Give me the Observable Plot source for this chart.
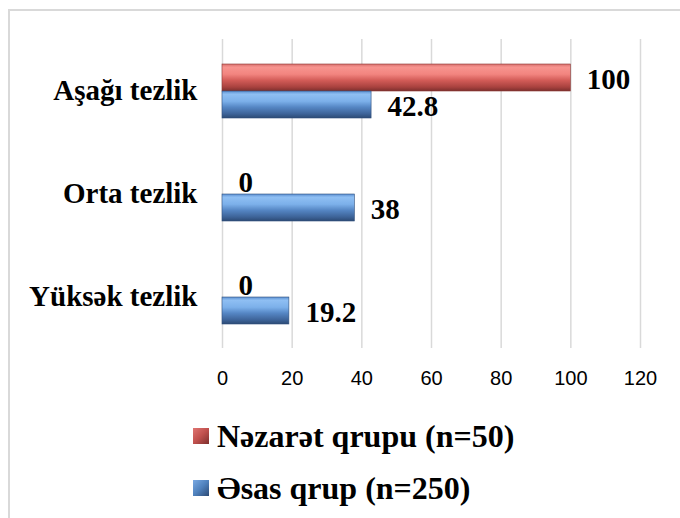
<!DOCTYPE html>
<html><head><meta charset="utf-8">
<script src="https://cdn.jsdelivr.net/npm/d3@7"></script>
<script src="https://cdn.jsdelivr.net/npm/@observablehq/plot@0.6"></script>
<style>
html,body{margin:0;padding:0;background:#fff;}
body{width:680px;height:518px;overflow:hidden;position:relative;}
#frame{position:absolute;left:8px;top:9px;width:700px;height:540px;border-left:2px solid #d9d9d9;border-top:2px solid #d9d9d9;}
#chart{position:absolute;left:0;top:0;}
.leg{position:absolute;left:193px;display:flex;align-items:center;height:32px;line-height:32px;font-family:"Liberation Serif","Times New Roman",serif;font-weight:bold;font-size:32px;color:#000;white-space:nowrap;}
.sw{width:16px;height:16px;margin-right:8px;box-sizing:border-box;}
</style></head><body>
<div id="frame"></div><div id="chart"></div><div id="legend"></div>
<script>
const categories = ["Aşağı tezlik", "Orta tezlik", "Yüksək tezlik"];
const seriesNames = ["Nəzarət qrupu (n=50)", "Əsas qrup (n=250)"];
const nezaretValues = [100, 0, 0];
const esasValues = [42.8, 38, 19.2];
const xTicks = [0, 20, 40, 60, 80, 100, 120];

const data = [];
categories.forEach((c, i) => {
  data.push({cat: c, series: seriesNames[0], value: nezaretValues[i]});
  data.push({cat: c, series: seriesNames[1], value: esasValues[i]});
});

const serif = "'Liberation Serif', 'Times New Roman', serif";

function defsMark() {
  const g = document.createElementNS("http://www.w3.org/2000/svg", "g");
  g.innerHTML = `<defs>
  <linearGradient id="gRed" x1="0" y1="0" x2="0" y2="1">
    <stop offset="0" stop-color="#d8706d"/>
    <stop offset="0.12" stop-color="#f7948f"/>
    <stop offset="0.38" stop-color="#f2847f"/>
    <stop offset="0.6" stop-color="#d35c58"/>
    <stop offset="0.85" stop-color="#a9423f"/>
    <stop offset="1" stop-color="#7c2f2d"/>
  </linearGradient>
  <linearGradient id="gBlue" x1="0" y1="0" x2="0" y2="1">
    <stop offset="0" stop-color="#5b8fd1"/>
    <stop offset="0.12" stop-color="#8fbff3"/>
    <stop offset="0.38" stop-color="#7cb0ea"/>
    <stop offset="0.6" stop-color="#5586c4"/>
    <stop offset="0.85" stop-color="#3d6398"/>
    <stop offset="1" stop-color="#2c4a74"/>
  </linearGradient></defs>`;
  return g;
}

const chart = Plot.plot({
  width: 680,
  height: 400,
  marginLeft: 222,
  marginRight: 40,
  marginTop: 38,
  marginBottom: 51,
  style: {background: "transparent", overflow: "visible", color: "#000"},
  x: {domain: [0, 120]},
  y: {domain: seriesNames, axis: null, paddingInner: 0, paddingOuter: 0.885},
  fy: {domain: categories, padding: 0, axis: null},
  marks: [
    defsMark,
    Plot.gridX(xTicks, {stroke: "#d9d9d9", strokeOpacity: 1, strokeWidth: 1.5}),
    Plot.barX(data.filter(d => d.series === seriesNames[0]), {x: "value", y: "series", fy: "cat", fill: "url(#gRed)", stroke: "#8a3634", strokeWidth: 0.6}),
    Plot.barX(data.filter(d => d.series === seriesNames[1]), {x: "value", y: "series", fy: "cat", fill: "url(#gBlue)", stroke: "#2f4f7c", strokeWidth: 0.6}),
    Plot.text(data, {x: "value", y: "series", fy: "cat", text: d => String(d.value), dx: 16, dy: 2, textAnchor: "start", fontSize: 29, fontWeight: "bold", fontFamily: serif, fill: "#000"}),
    Plot.axisFy({anchor: "left", tickSize: 0, tickPadding: 25, fontSize: 29, fontWeight: "bold", fontFamily: serif, label: null, fill: "#000"}),
    Plot.axisX({ticks: xTicks, tickSize: 0, tickPadding: 22, fontSize: 20, fontFamily: "'Liberation Sans', Arial, sans-serif", label: null, fill: "#000"})
  ]
});
document.getElementById("chart").appendChild(chart);

const legendColors = [
  "linear-gradient(135deg,#e07572 0%,#c0504d 50%,#7c2f2d 100%)",
  "linear-gradient(135deg,#7aa9e3 0%,#4f81bd 50%,#2c4a74 100%)"
];
const legendTops = [420, 472];
const legend = document.getElementById("legend");
seriesNames.forEach((name, i) => {
  const item = document.createElement("div");
  item.className = "leg";
  item.style.top = legendTops[i] + "px";
  const sw = document.createElement("span");
  sw.className = "sw";
  sw.style.background = legendColors[i];
  item.appendChild(sw);
  const t = document.createElement("span");
  t.textContent = name;
  item.appendChild(t);
  legend.appendChild(item);
});
</script>
</body></html>
